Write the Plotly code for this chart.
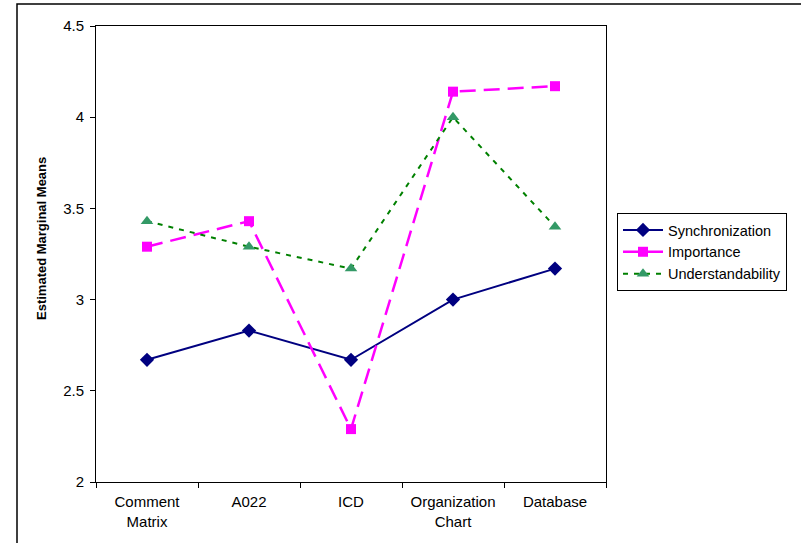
import plotly.graph_objects as go

categories = ["Comment<br>Matrix", "A022", "ICD", "Organization<br>Chart", "Database"]
synchronization = [2.67, 2.83, 2.67, 3.00, 3.17]
importance = [3.29, 3.43, 2.29, 4.14, 4.17]
understandability = [3.43, 3.29, 3.17, 4.00, 3.40]
y_ticks = [2, 2.5, 3, 3.5, 4, 4.5]
y_tick_text = ["2", "2.5", "3", "3.5", "4", "4.5"]

W, H = 801, 543
L, R, T, B = 96, 606, 26, 482
FONT = "Liberation Sans, Arial, sans-serif"


def px_x(x):
    return (x - L) / (R - L)


def px_y(y):
    return (B - y) / (B - T)


fig = go.Figure()
fig.add_trace(go.Scatter(
    x=categories, y=synchronization, name="Synchronization", mode="lines+markers",
    line=dict(color="#000080", width=2),
    marker=dict(symbol="diamond", size=11, color="#000080"),
))
fig.add_trace(go.Scatter(
    x=categories, y=importance, name="Importance", mode="lines+markers",
    line=dict(color="#FF00FF", width=2.5, dash="16px,8px"),
    marker=dict(symbol="square", size=10, color="#FF00FF"),
))
fig.add_trace(go.Scatter(
    x=categories, y=understandability, name="Understandability", mode="lines+markers",
    line=dict(color="#008000", width=2, dash="5px,6px"),
    marker=dict(symbol="triangle-up", size=11, color="#339966"),
))

# outer chart frame
fig.add_shape(type="rect", xref="paper", yref="paper",
              x0=px_x(17), x1=px_x(806), y0=px_y(549), y1=px_y(4),
              line=dict(color="black", width=1.5), fillcolor="rgba(0,0,0,0)", layer="below")

fig.add_annotation(text="<b>Estimated Marginal Means</b>", xref="paper", yref="paper",
                   x=px_x(42), y=px_y(239), xanchor="center", yanchor="middle",
                   textangle=-90, showarrow=False,
                   font=dict(family=FONT, size=13, color="black"))

fig.update_layout(
    width=W, height=H,
    margin=dict(l=L, r=W - R, t=T, b=H - B, pad=0, autoexpand=False),
    paper_bgcolor="white", plot_bgcolor="white",
    font=dict(family=FONT, size=15, color="black"),
    showlegend=True,
    legend=dict(x=px_x(617), y=px_y(213), xanchor="left", yanchor="top",
                bordercolor="black", borderwidth=1, bgcolor="white",
                font=dict(family=FONT, size=14.5, color="black"),
                itemwidth=40, tracegroupgap=0),
    xaxis=dict(type="category", range=[-0.5, 4.5], tickson="boundaries",
               ticks="outside", ticklen=5, tickcolor="black",
               showline=True, linecolor="black", linewidth=1, mirror=True,
               showgrid=False, zeroline=False, fixedrange=True,
               ticklabelstandoff=6,
               tickfont=dict(family=FONT, size=15, color="black")),
    yaxis=dict(range=[2, 4.5], tickvals=y_ticks, ticktext=y_tick_text,
               ticks="outside", ticklen=5, tickcolor="black",
               showline=True, linecolor="black", linewidth=1, mirror=True,
               showgrid=False, zeroline=False, ticklabelstandoff=3,
               tickfont=dict(family=FONT, size=15, color="black")),
)

fig.write_html("out.html")
